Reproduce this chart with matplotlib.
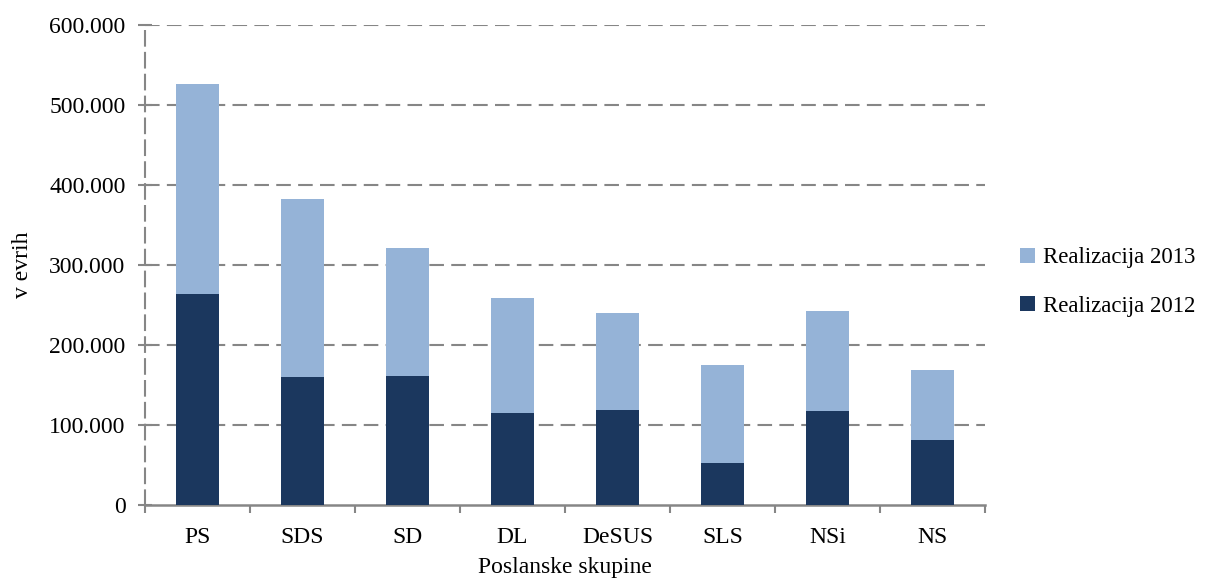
import matplotlib
matplotlib.use("Agg")
import matplotlib.pyplot as plt
from matplotlib.ticker import FuncFormatter, FixedLocator
import numpy as np

categories = ["PS", "SDS", "SD", "DL", "DeSUS", "SLS", "NSi", "NS"]
real_2012 = [264000, 159500, 161000, 115000, 119000, 52000, 117000, 81000]
real_2013 = [262500, 223000, 160000, 143500, 121000, 123000, 126000, 88000]
yticks = [0, 100000, 200000, 300000, 400000, 500000, 600000]

c2012 = "#1B375E"
c2013 = "#95B3D7"
grid_c = "#868686"

plt.rcParams['font.family'] = ['Liberation Serif', 'DejaVu Serif']
fs = 17

fig = plt.figure(figsize=(12.08, 5.83), dpi=100)
ax = fig.add_axes([145/1208, 1-505/583, (985-145)/1208, (505-25)/583])

x = np.arange(len(categories))
w = 0.41
b1 = ax.bar(x, real_2012, width=w, color=c2012, zorder=3, label="Realizacija 2012")
b2 = ax.bar(x, real_2013, width=w, bottom=real_2012, color=c2013, zorder=3,
            label="Realizacija 2013")

ax.set_xlim(-0.5, len(categories) - 0.5)
ax.set_ylim(0, 600000)
ax.set_yticks(yticks)
ax.yaxis.set_major_formatter(FuncFormatter(lambda v, p: "0" if v == 0 else f"{int(v):,}".replace(",", ".")))

ax.set_xticks(x)
ax.set_xticklabels(categories, fontsize=fs)
ax.xaxis.set_minor_locator(FixedLocator(np.arange(-0.5, len(categories), 1.0)))
ax.tick_params(axis='x', which='major', length=0, pad=16)
ax.tick_params(axis='x', which='minor', length=6, width=1.5, color=grid_c, direction='out')
ax.tick_params(axis='y', which='major', length=10, width=1.5, color=grid_c, direction='inout',
               labelsize=fs, pad=9)

for yv in yticks[1:]:
    ax.axhline(yv, color=grid_c, lw=1.5, dashes=(7, 3.5), zorder=1)

for s in ['top', 'right']:
    ax.spines[s].set_visible(False)
ax.spines['bottom'].set_color(grid_c)
ax.spines['bottom'].set_linewidth(1.8)
ax.spines['left'].set_color(grid_c)
ax.spines['left'].set_linewidth(1.5)
ax.spines['left'].set_linestyle((0, (7, 3.5)))

ax.set_ylabel("v evrih", fontsize=fs, labelpad=12)
ax.set_xlabel("Poslanske skupine", fontsize=fs, labelpad=6)

handles = [b2, b1]
leg = fig.legend(handles, ["Realizacija 2013", "Realizacija 2012"], loc='center left',
                 bbox_to_anchor=(1020/1208, 1-282/583), frameon=False, fontsize=16.5,
                 borderpad=0, borderaxespad=0,
                 handlelength=0.65, handleheight=0.65, handletextpad=0.35, labelspacing=1.2)

fig.savefig("out.png", dpi=100)
